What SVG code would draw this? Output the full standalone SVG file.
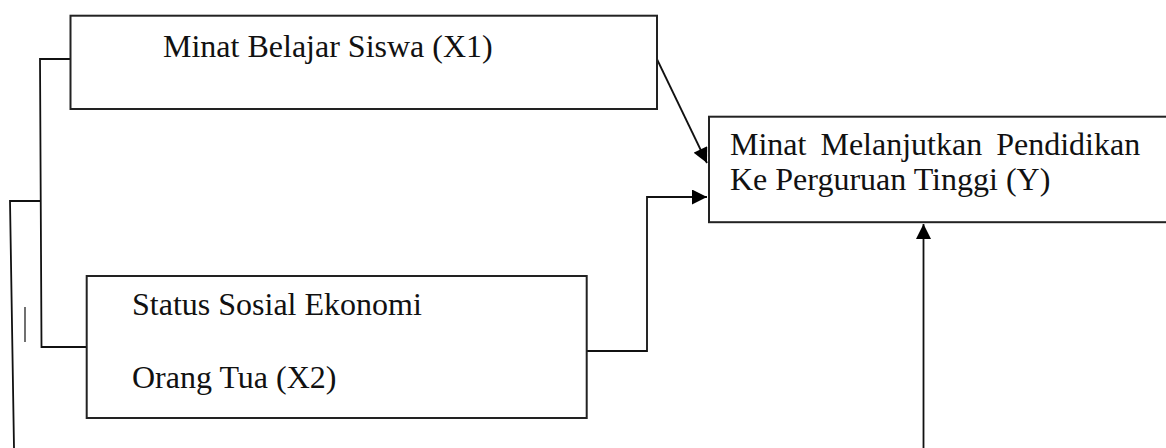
<svg xmlns="http://www.w3.org/2000/svg" width="1166" height="448" viewBox="0 0 1166 448">
  <style>
    .box { fill: #ffffff; stroke: #222222; stroke-width: 2; }
    .lbl { font-family: "Liberation Serif", "Times New Roman", serif; font-size: 32px; fill: #111111; }
    .wire { fill: none; stroke: #111111; stroke-width: 1.8; }
    .thin { fill: none; stroke: #111111; stroke-width: 1.2; }
  </style>
  <defs>
    <marker id="headL" viewBox="0 0 10 10" refX="10" refY="5" markerWidth="16" markerHeight="15" markerUnits="userSpaceOnUse" orient="auto">
      <path d="M0,0 L10,5 L0,10 Z" fill="#000000"/>
    </marker>
  </defs>

  <rect width="1166" height="448" fill="#ffffff"/>

  <g id="connectors">
    <!-- bracket joining X1 and X2 on the left -->
    <path class="wire" d="M70,59 L40,59 L41.5,347 L87,347"/>
    <path class="wire" d="M40,201 L10,201 L14,448"/>
    <path class="thin" d="M25,307 L25,342"/>
    <!-- X1 to Y -->
    <path class="wire" d="M654,53 L707,163" marker-end="url(#headL)"/>
    <!-- X2 to Y -->
    <path class="wire" d="M584,351 L647,351 L647,197 L707,197" marker-end="url(#headL)"/>
    <!-- bottom feed into Y -->
    <path class="wire" d="M923.5,448 L923.5,224" marker-end="url(#headL)"/>
  </g>

  <g id="node-x1">
    <rect class="box" x="70.5" y="15.7" width="586.5" height="93.3"/>
    <text class="lbl" x="163" y="57">Minat Belajar Siswa (X1)</text>
  </g>

  <g id="node-x2">
    <rect class="box" x="86.7" y="276" width="500" height="142"/>
    <text class="lbl" x="132" y="315">Status Sosial Ekonomi</text>
    <text class="lbl" x="132" y="388">Orang Tua (X2)</text>
  </g>

  <g id="node-y">
    <rect class="box" x="709" y="116.7" width="470" height="105.5"/>
    <text class="lbl" x="730" y="155" word-spacing="6">Minat Melanjutkan Pendidikan</text>
    <text class="lbl" x="730" y="190">Ke Perguruan Tinggi (Y)</text>
  </g>
</svg>
